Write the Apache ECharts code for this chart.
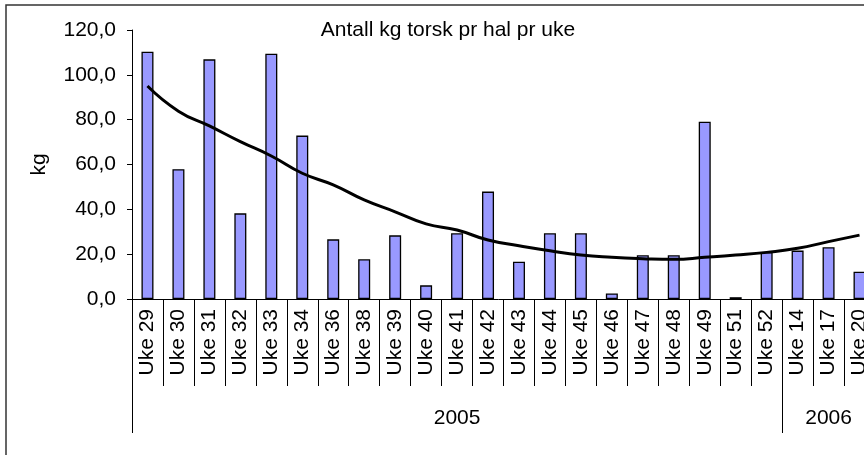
<!DOCTYPE html>
<html>
<head>
<meta charset="utf-8">
<script src="https://cdn.jsdelivr.net/npm/echarts@6/dist/echarts.min.js"></script>
<style>
    html, body { margin: 0; padding: 0; background: #fff; }
    #main { width: 864px; height: 455px; }
</style>
</head>
<body>
<div id="main"></div>
<script>
// uker (kategorier)
var weeks = ['Uke 29', 'Uke 30', 'Uke 31', 'Uke 32', 'Uke 33', 'Uke 34', 'Uke 36', 'Uke 38', 'Uke 39', 'Uke 40',
    'Uke 41', 'Uke 42', 'Uke 43', 'Uke 44', 'Uke 45', 'Uke 46', 'Uke 47', 'Uke 48', 'Uke 49', 'Uke 51', 'Uke 52',
    'Uke 14', 'Uke 17', 'Uke 20'];
// kg torsk pr hal
var kgValues = [110.3, 57.9, 106.9, 38.2, 109.4, 72.9, 26.6, 17.7, 28.4, 6.1,
    29.3, 47.9, 16.6, 29.3, 29.3, 2.5, 19.5, 19.5, 79.1, 0.8, 21.0,
    21.6, 23.1, 12.2];
// trendlinje
var trendValues = [95.0, 83.8, 77.2, 70.2, 63.8, 56.1, 50.9, 44.2, 38.9, 33.5,
    30.8, 26.3, 23.8, 21.5, 19.6, 18.6, 18.0, 17.7, 18.6, 19.6, 20.8,
    22.6, 25.6, 28.5];
// år og antall uker i hvert år
var years = ['2005', '2006'];
var yearCounts = [21, 3];
var yTicks = [0, 20, 40, 60, 80, 100, 120];

var font = 'Liberation Sans, Arial, sans-serif';

// bygg år pr kategori, og finn grenser / midtpunkt
var yearOfCat = [];
var groupStart = {};
var groupMid = {};
var pos = 0;
for (var i = 0; i < years.length; i++) {
    groupStart[pos] = true;
    groupMid[pos + Math.floor(yearCounts[i] / 2)] = true;
    for (var j = 0; j < yearCounts[i]; j++) {
        yearOfCat.push(years[i]);
    }
    pos += yearCounts[i];
}

var myChart = echarts.init(document.getElementById('main'));
var option = {
    animation: false,
    backgroundColor: '#fff',
    textStyle: {fontFamily: font},
    title: {
        text: 'Antall kg torsk pr hal pr uke',
        left: 443,
        top: 15,
        textAlign: 'center',
        textStyle: {fontFamily: font, fontSize: 21, fontWeight: 'normal', color: '#000'}
    },
    graphic: [{
        type: 'rect',
        shape: {x: 6, y: 5, width: 900, height: 500},
        style: {fill: 'none', stroke: '#333', lineWidth: 1.5},
        silent: true
    }],
    grid: {
        left: 132,
        top: 30,
        width: 743,
        height: 269,
        outerBoundsMode: 'none'
    },
    xAxis: [
        {
            type: 'category',
            data: weeks,
            position: 'bottom',
            axisLine: {lineStyle: {color: '#000', width: 1}},
            axisTick: {show: true, interval: 0, length: 87, lineStyle: {color: '#000'}},
            axisLabel: {
                interval: 0,
                rotate: 90,
                margin: 10,
                fontSize: 21,
                fontFamily: font,
                color: '#000'
            },
            splitLine: {show: false}
        },
        {
            type: 'category',
            data: yearOfCat,
            position: 'bottom',
            axisLine: {show: false},
            axisTick: {
                show: true,
                length: 134,
                interval: function (index) {
                    return !!groupStart[index];
                },
                lineStyle: {color: '#000'}
            },
            axisLabel: {
                interval: function (index) {
                    return !!groupMid[index];
                },
                margin: 109,
                fontSize: 21,
                fontFamily: font,
                color: '#000'
            },
            splitLine: {show: false}
        }
    ],
    yAxis: {
        type: 'value',
        min: yTicks[0],
        max: yTicks[yTicks.length - 1],
        interval: yTicks[1] - yTicks[0],
        name: 'kg',
        nameLocation: 'middle',
        nameGap: 82,
        nameRotate: 90,
        nameTextStyle: {fontFamily: font, fontSize: 21, color: '#000'},
        axisLine: {show: true, lineStyle: {color: '#000', width: 1}},
        axisTick: {show: true, length: 5, lineStyle: {color: '#000'}},
        axisLabel: {
            margin: 16,
            fontSize: 21,
            fontFamily: font,
            color: '#000',
            formatter: function (v) {
                return v.toFixed(1).replace('.', ',');
            }
        },
        splitLine: {show: false}
    },
    series: [
        {
            name: 'kg',
            type: 'bar',
            xAxisIndex: 0,
            data: kgValues,
            barWidth: 12,
            itemStyle: {color: '#9999ff', borderColor: '#000', borderWidth: 1.3}
        },
        {
            name: 'trend',
            type: 'line',
            xAxisIndex: 0,
            data: trendValues,
            smooth: true,
            symbol: 'none',
            lineStyle: {color: '#000', width: 3}
        }
    ]
};
myChart.setOption(option);
</script>
</body>
</html>
